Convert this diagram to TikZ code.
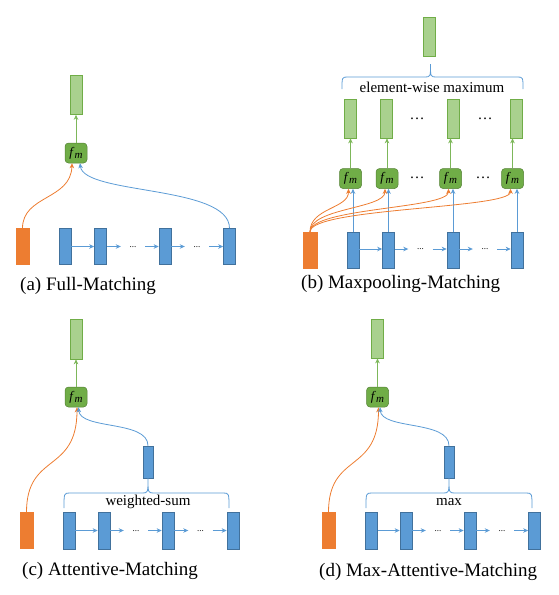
\documentclass[tikz,border=0pt]{standalone}
\usepackage{fontspec}
\setmainfont{Liberation Serif}
\usetikzlibrary{arrows.meta,calc}
\definecolor{bfill}{HTML}{5B9BD5}
\definecolor{bbord}{HTML}{41719C}
\definecolor{bline}{HTML}{5B9BD5}
\definecolor{ofill}{HTML}{ED7D31}
\definecolor{fmfill}{HTML}{70AD47}
\definecolor{fmbord}{HTML}{548235}
\definecolor{gfill}{HTML}{A9D18E}
\definecolor{gbord}{HTML}{70AD47}
\definecolor{gline}{HTML}{7DB75A}
\newcommand{\fmlabel}{\fontsize{13}{13}\selectfont\textit{f}\kern0.2pt\raisebox{-2pt}{\fontsize{11}{11}\selectfont\textit{m}}}
% \mybrace{x1}{x2}{xm}{yend}{yhoriz}{ytip}
\newcommand{\mybrace}[6]{%
  \draw[bracestyle] (#1,#4) .. controls (#1,#5) .. ({#1+6},#5) -- ({#3-6},#5)
    .. controls (#3,#5) .. (#3,#6) .. controls (#3,#5) .. ({#3+6},#5)
    -- ({#2-6},#5) .. controls (#2,#5) .. (#2,#4);}
\tikzset{
  orect/.style={rectangle,draw=ofill,fill=ofill,minimum width=13pt,minimum height=36pt,inner sep=0pt},
  brect/.style={rectangle,draw=bbord,fill=bfill,line width=0.6pt,minimum width=12pt,minimum height=36pt,inner sep=0pt},
  grect/.style={rectangle,draw=gbord,fill=gfill,line width=0.6pt,minimum width=12pt,minimum height=39pt,inner sep=0pt},
  fmnode/.style={rectangle,rounded corners=3.5pt,draw=fmbord,fill=fmfill,line width=0.5pt,minimum width=22pt,minimum height=20pt,inner sep=0pt},
  cdots/.style={font=\fontsize{9}{9}\selectfont,text height=1.5pt,text depth=0pt,minimum width=24pt,inner sep=0pt},
  bdots/.style={font=\fontsize{15}{15}\selectfont,text height=2pt,text depth=0pt,inner sep=0pt},
  arrtip/.style={-{Stealth[length=5pt,width=4.5pt,inset=1.5pt]}},
  barr/.style={draw=bline,line width=0.8pt,arrtip},
  oarr/.style={draw=ofill,line width=0.8pt,arrtip},
  garr/.style={draw=gline,line width=0.8pt,arrtip},
  bracestyle/.style={draw=bline,line width=0.8pt},
  lbl/.style={font=\fontsize{15}{15}\selectfont,inner sep=0pt},
  captext/.style={font=\fontsize{19}{19}\selectfont,inner sep=0pt,anchor=base west},
}
\begin{document}
\begin{tikzpicture}[x=1pt,y=-1pt]
\useasboundingbox (0,0) rectangle (559,595);

% ---------------- (a) Full-Matching ----------------
\node[orect] (a0) at (22.5,246.5) {};
\node[brect] (a1) at (65,246.5) {};
\node[brect] (a2) at (100.5,246.5) {};
\node[brect] (a3) at (165,246.5) {};
\node[brect] (a4) at (229.5,246.5) {};
\node[cdots] (ad1) at (133,246.5) {...};
\node[cdots] (ad2) at (197,246.5) {...};
\draw[barr] (a1) -- (a2);
\draw[barr] (a2) -- (ad1);
\draw[barr] (ad1) -- (a3);
\draw[barr] (a3) -- (ad2);
\draw[barr] (ad2) -- (a4);
\node[fmnode] (fma) at (76,153) {\fmlabel};
\node[grect] (ga) at (76,95) {};
\draw[garr] (fma) -- (ga);
\draw[oarr] (a0.north) .. controls (22.5,195) and (71,200) .. ([xshift=-4pt]fma.south);
\draw[barr] (a4.north) .. controls (229.5,185) and (84,195) .. ([xshift=4pt]fma.south);
\node[captext] (capa) at (20,290) {(a) Full-Matching};

% ---------------- (b) Maxpooling-Matching ----------------
\node[orect,minimum width=14pt] (b0) at (310,250) {};
\node[brect] (b1) at (353,250) {};
\node[brect] (b2) at (388.5,250) {};
\node[brect] (b3) at (453,250) {};
\node[brect] (b4) at (517,250) {};
\node[cdots] (bd1) at (420.5,249) {...};
\node[cdots] (bd2) at (485,249) {...};
\draw[barr] (b1.east |- bd1) -- (b2.west |- bd1);
\draw[barr] (b2.east |- bd1) -- (bd1);
\draw[barr] (bd1) -- (b3.west |- bd1);
\draw[barr] (b3.east |- bd2) -- (bd2);
\draw[barr] (bd2) -- (b4.west |- bd2);
\node[fmnode] (fb1) at (350.5,178.5) {\fmlabel};
\node[fmnode] (fb2) at (387,178.5) {\fmlabel};
\node[fmnode] (fb3) at (450.5,178.5) {\fmlabel};
\node[fmnode] (fb4) at (512.5,178.5) {\fmlabel};
\node[bdots] (fd1) at (417,177) {\dots};
\node[bdots] (fd2) at (483,177) {\dots};
\node[grect] (gb1) at (350,118.5) {};
\node[grect] (gb2) at (386.5,118.5) {};
\node[grect] (gb3) at (453,118.5) {};
\node[grect] (gb4) at (516.5,118.5) {};
\node[bdots] (gd1) at (417,118.5) {\dots};
\node[bdots] (gd2) at (485,118.5) {\dots};
\foreach \i in {1,2,3,4} {
  \draw[garr] (fb\i.north) -- (fb\i.north |- gb\i.south);
  \draw[barr] (b\i.north) -- (b\i.north |- fb\i.south);
  \draw[oarr] (b0.north) .. controls ($(b0.north)+(0,-24)$) and ($(fb\i.south)+(-2,20)$) .. ([xshift=-2pt]fb\i.south);
}
\node[grect] (gtop) at (429.5,36.5) {};
\mybrace{342}{523}{430.5}{89}{77}{64}
\node[lbl] (lblb) at (432,87) {element-wise maximum};
\node[captext] (capb) at (301,288) {(b) Maxpooling-Matching};

% ---------------- (c) Attentive-Matching ----------------
\node[orect] (c0) at (26.5,530.5) {};
\node[brect,minimum height=37pt] (c1) at (69,530.5) {};
\node[brect,minimum height=37pt] (c2) at (104,530.5) {};
\node[brect,minimum height=37pt] (c3) at (168,530.5) {};
\node[brect,minimum height=37pt] (c4) at (233,530.5) {};
\node[cdots] (cd1) at (136,530.5) {...};
\node[cdots] (cd2) at (200.5,530.5) {...};
\draw[barr] (c1) -- (c2);
\draw[barr] (c2) -- (cd1);
\draw[barr] (cd1) -- (c3);
\draw[barr] (c3) -- (cd2);
\draw[barr] (cd2) -- (c4);
\node[fmnode] (fmc) at (76,397) {\fmlabel};
\node[grect,minimum height=40pt] (gc) at (76,339) {};
\draw[garr] (fmc) -- (gc);
\node[brect,minimum width=10pt,minimum height=32pt] (cm) at (148,462) {};
\mybrace{64}{229}{148}{508}{493}{478}
\node[lbl] (lblc) at (148,502) {weighted-sum};
\draw[oarr] (c0.north) .. controls (26.5,452) and (77,474) .. ([xshift=1pt]fmc.south);
\draw[barr] (cm.north) .. controls (148,420) and (80,430) .. ([xshift=2.5pt]fmc.south);
\node[captext] (capc) at (22,575) {(c) Attentive-Matching};

% ---------------- (d) Max-Attentive-Matching ----------------
\node[orect] (d0) at (328.5,530.5) {};
\node[brect,minimum height=37pt] (d1) at (371.5,530.5) {};
\node[brect,minimum height=37pt] (d2) at (406,530.5) {};
\node[brect,minimum height=37pt] (d3) at (470,530.5) {};
\node[brect,minimum height=37pt] (d4) at (534.5,530.5) {};
\node[cdots] (dd1) at (438,530.5) {...};
\node[cdots] (dd2) at (502,530.5) {...};
\draw[barr] (d1) -- (d2);
\draw[barr] (d2) -- (dd1);
\draw[barr] (dd1) -- (d3);
\draw[barr] (d3) -- (dd2);
\draw[barr] (dd2) -- (d4);
\node[fmnode] (fmd) at (377.5,397) {\fmlabel};
\node[grect,minimum height=39pt] (gd) at (377.5,338.5) {};
\draw[garr] (fmd) -- (gd);
\node[brect,minimum width=10pt,minimum height=32pt] (dm) at (449,462) {};
\mybrace{366}{532}{449}{508}{493}{478}
\node[lbl] (lbld) at (449,502) {max};
\draw[oarr] (d0.north) .. controls (328.5,452) and (378.5,474) .. ([xshift=1pt]fmd.south);
\draw[barr] (dm.north) .. controls (449,420) and (381.5,430) .. ([xshift=2.5pt]fmd.south);
\node[captext] (capd) at (319,576) {(d) Max-Attentive-Matching};
\end{tikzpicture}
\end{document}
